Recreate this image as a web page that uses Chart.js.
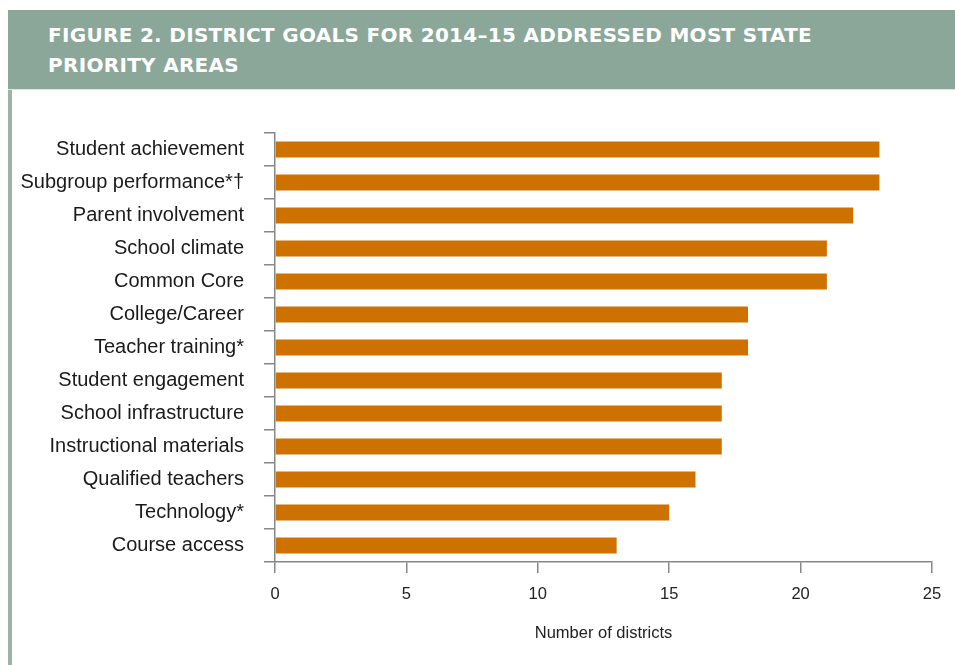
<!DOCTYPE html>
<html>
<head>
<meta charset="utf-8">
<title>District goals for 2014–15</title>
<script src="https://cdn.jsdelivr.net/npm/chart.js@4"></script>
<style>
  html, body { margin: 0; padding: 0; background: #fff; }
  #wrap { position: relative; width: 955px; height: 665px; overflow: hidden; }
  #chartBox { position: absolute; left: 0; top: 0; width: 955px; height: 665px; }
  .fig-header {
    position: absolute; left: 8px; top: 10px; width: 947px; height: 79px;
    background: #8ba799; border-bottom: 1px solid #dfe7e3;
  }
  .fig-title {
    position: absolute; left: 40px; top: 10px; margin: 0;
    font-family: "DejaVu Sans", Verdana, sans-serif; font-weight: bold;
    font-size: 20px; line-height: 30px; color: #fff; letter-spacing: 0.3px;
  }
  .fig-border {
    position: absolute; left: 8px; top: 90px; width: 4px; height: 575px;
    background: #9bb4a8;
  }
</style>
</head>
<body>
<div id="wrap">
  <div id="chartBox"><canvas id="goalsChart"></canvas></div>
  <div class="fig-header">
    <p class="fig-title">FIGURE 2. DISTRICT GOALS FOR 2014–15 ADDRESSED MOST STATE<br>PRIORITY AREAS</p>
  </div>
  <div class="fig-border"></div>
</div>
<script>
// Данные
const categories = [
  'Student achievement',
  'Subgroup performance*†',
  'Parent involvement',
  'School climate',
  'Common Core',
  'College/Career',
  'Teacher training*',
  'Student engagement',
  'School infrastructure',
  'Instructional materials',
  'Qualified teachers',
  'Technology*',
  'Course access'
];
const districtCounts = [23, 23, 22, 21, 21, 18, 18, 17, 17, 17, 16, 15, 13];
const axisTitle = 'Number of districts';

const axisColor = '#878787';
const sansFont = '"Liberation Sans", Arial, sans-serif';

document.addEventListener('DOMContentLoaded', function() {
  const canvas = document.getElementById('goalsChart');

  new Chart(canvas, {
    type: 'bar',
    data: {
      labels: categories,
      datasets: [{
        data: districtCounts,
        backgroundColor: '#cd7200',
        borderWidth: 0,
        categoryPercentage: 1,
        barPercentage: 0.49
      }]
    },
    options: {
      indexAxis: 'y',
      responsive: true,
      maintainAspectRatio: false,
      animation: false,
      layout: { padding: { top: 133, right: 23, left: 0, bottom: 0 } },
      plugins: {
        legend: { display: false },
        tooltip: { enabled: false }
      },
      scales: {
        x: {
          min: 0,
          max: 25,
          afterFit: function(scale) { scale.height = 103; },
          border: { color: axisColor, width: 1.5 },
          grid: { drawOnChartArea: false, drawTicks: true, tickLength: 11, color: axisColor, lineWidth: 1.5 },
          ticks: {
            stepSize: 5,
            padding: 12,
            color: '#222',
            font: { family: sansFont, size: 16.5 }
          },
          title: {
            display: true,
            text: axisTitle,
            color: '#222',
            padding: { top: 0, bottom: 22 },
            font: { family: sansFont, size: 16.5 }
          }
        },
        y: {
          afterFit: function(scale) { scale.width = 275; },
          border: { color: axisColor, width: 1.5 },
          grid: { drawOnChartArea: false, drawTicks: true, tickLength: 11, color: axisColor, lineWidth: 1.5, offset: true },
          ticks: {
            padding: 20,
            color: '#1a1a1a',
            font: { family: sansFont, size: 20 }
          }
        }
      }
    }
  });
});
</script>
</body>
</html>
